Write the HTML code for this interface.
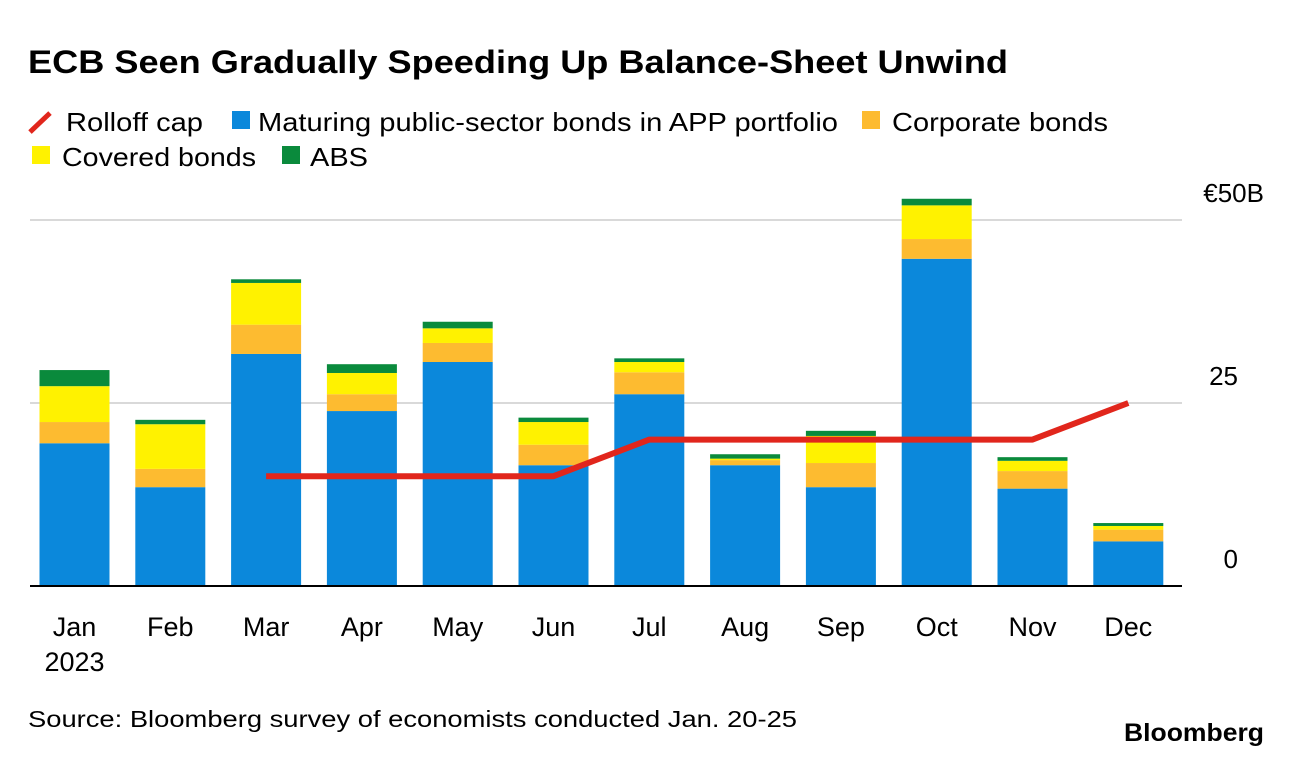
<!DOCTYPE html>
<html><head><meta charset="utf-8">
<style>
body{margin:0;background:#fff;font-family:"Liberation Sans",sans-serif;}
svg text{font-family:"Liberation Sans",sans-serif;fill:#000;}
</style></head>
<body>
<svg width="1292" height="758" viewBox="0 0 1292 758" xmlns="http://www.w3.org/2000/svg">
<text x="28" y="73" font-size="32" font-weight="bold" textLength="980" lengthAdjust="spacingAndGlyphs">ECB Seen Gradually Speeding Up Balance-Sheet Unwind</text>
<g>
<line x1="30" y1="132" x2="50" y2="113" stroke="#e1261c" stroke-width="5"/>
<text x="66" y="131" font-size="26" textLength="137" lengthAdjust="spacingAndGlyphs">Rolloff cap</text>
<rect x="232" y="111" width="18" height="18" fill="#0b88db"/>
<text x="258" y="131" font-size="26" textLength="580" lengthAdjust="spacingAndGlyphs">Maturing public-sector bonds in APP portfolio</text>
<rect x="862" y="111" width="18" height="18" fill="#fdbb30"/>
<text x="892" y="131" font-size="26" textLength="216" lengthAdjust="spacingAndGlyphs">Corporate bonds</text>
<rect x="32" y="146" width="18" height="18" fill="#fff200"/>
<text x="62" y="166" font-size="26" textLength="194" lengthAdjust="spacingAndGlyphs">Covered bonds</text>
<rect x="282" y="146" width="18" height="18" fill="#0a8a3c"/>
<text x="310" y="166" font-size="26" textLength="58" lengthAdjust="spacingAndGlyphs">ABS</text>
</g>
<g id="plot"></g>
<text x="28" y="727" font-size="23" textLength="769" lengthAdjust="spacingAndGlyphs">Source: Bloomberg survey of economists conducted Jan. 20-25</text>
<text x="1124" y="741" font-size="25" font-weight="bold" textLength="140" lengthAdjust="spacingAndGlyphs">Bloomberg</text>
</svg>
<script>
const months=["Jan","Feb","Mar","Apr","May","Jun","Jul","Aug","Sep","Oct","Nov","Dec"];
const publicSector=[19.5,13.5,31.7,23.9,30.6,16.5,26.2,16.5,13.5,44.7,13.3,6.1];
const corporate=[2.9,2.5,4.0,2.3,2.6,2.8,3.0,0.7,3.3,2.7,2.4,1.6];
const covered=[4.9,6.1,5.7,2.9,2.0,3.1,1.4,0.2,3.7,4.6,1.4,0.5];
const abs=[2.2,0.6,0.5,1.2,0.9,0.6,0.5,0.6,0.7,0.9,0.5,0.4];
const rolloffCap=[null,null,15,15,15,15,20,20,20,20,20,25];
const yTicks=[0,25,50];
const yTickLabels=["0","25","€50B"];
const NS="http://www.w3.org/2000/svg";
const g=document.getElementById('plot');
const y0=586,pxPer=(586-220)/50;
const y=v=>y0-v*pxPer;
const x=i=>74.5+i*95.8;
const bw=70;
function mk(t,a){const e=document.createElementNS(NS,t);for(const k in a)e.setAttribute(k,a[k]);g.appendChild(e);return e;}
yTicks.forEach((t,i)=>{
 if(t>0){const l=mk('line',{x1:30,x2:1182,y1:y(t),y2:y(t),stroke:'#d9d9d9','stroke-width':2});
 
 }
 const tx=mk('text',{x:(i==2?1264:1238),y:y(t)-18,'font-size':26,'text-anchor':'end'});
 tx.textContent=yTickLabels[i];
 
 
});
const series=[[publicSector,'#0b88db','public'],[corporate,'#fdbb30','corporate'],[covered,'#fff200','covered'],[abs,'#0a8a3c','abs']];
months.forEach((m,i)=>{
 let base=0;
 series.forEach(([arr,c,n])=>{
  const r=mk('rect',{x:x(i)-bw/2,y:y(base+arr[i]),width:bw,height:arr[i]*pxPer,fill:c});
  
  
  base+=arr[i];
 });
 const t=mk('text',{x:x(i),y:636,'font-size':27,'text-anchor':'middle'});
 t.textContent=m;
 
 
});
const yr=mk('text',{x:x(0),y:671,'font-size':27,'text-anchor':'middle'});
yr.textContent="2023";


const base=mk('line',{x1:30,x2:1182,y1:y0,y2:y0,stroke:'#000','stroke-width':2});


let d='';
rolloffCap.forEach((v,i)=>{if(v!==null){d+=(d?'L':'M')+x(i)+','+y(v);}});
const p=mk('path',{d:d,fill:'none',stroke:'#e1261c','stroke-width':6,'stroke-linejoin':'round'});


</script>
</body></html>
